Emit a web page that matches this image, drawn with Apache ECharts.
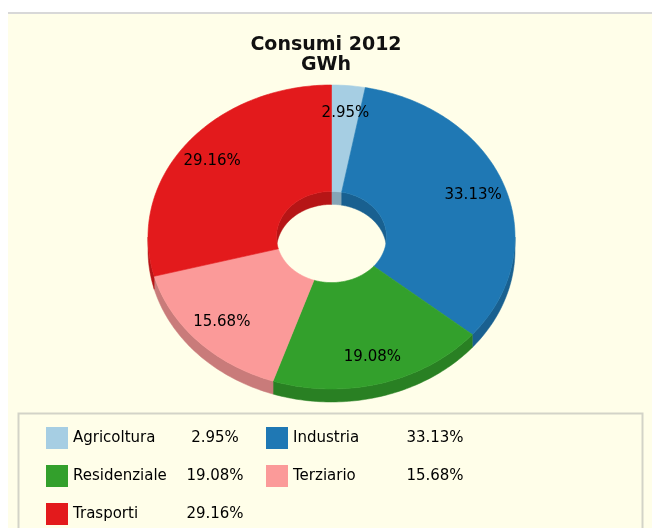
<!DOCTYPE html>
<html>
<head>
<meta charset="utf-8">
<script src="https://cdn.jsdelivr.net/npm/echarts@6/dist/echarts.min.js"></script>
<style>
  html, body { margin: 0; padding: 0; background: #fff; }
  #consumi { width: 652px; height: 528px; }
</style>
</head>
<body>
<div id="consumi"></div>
<script>
// dati
const categories = ["Agricoltura", "Industria", "Residenziale", "Terziario", "Trasporti"];
const percents = [2.95, 33.13, 19.08, 15.68, 29.16];
const colors = ["#a6cee3", "#1f78b4", "#33a02c", "#fb9a99", "#e31a1c"];

const total = percents.reduce((a, b) => a + b, 0);
const starts = [];
let acc = 0;
percents.forEach(v => { starts.push(acc); acc += v; });

const DEPTH = 13;      // spessore della torta in px
const HOLE = 0.3;      // raggio del buco
const LABEL_R = 0.82;
const STEP = Math.PI / 180;
const FONT = '"DejaVu Sans", Verdana, sans-serif';

function darken(hex, k) {
  const n = parseInt(hex.slice(1), 16);
  const r = Math.round(((n >> 16) & 255) * k);
  const g = Math.round(((n >> 8) & 255) * k);
  const b = Math.round((n & 255) * k);
  return "rgb(" + r + "," + g + "," + b + ")";
}

// punti sull'ellisse (cerchio unitario nei dati, ellisse tramite gli assi)
function arc(api, r, a, b, dy) {
  const pts = [];
  const n = Math.max(2, Math.ceil(Math.abs(b - a) / STEP) + 1);
  for (let i = 0; i < n; i++) {
    const t = a + (b - a) * i / (n - 1);
    const p = api.coord([r * Math.sin(t), r * Math.cos(t)]);
    pts.push([p[0], p[1] + dy]);
  }
  return pts;
}

function clipRange(a, b, lo, hi) {
  const s = Math.max(a, lo), e = Math.min(b, hi);
  return s < e ? [s, e] : null;
}

function wall(api, r, range, fill) {
  const top = arc(api, r, range[0], range[1], 0);
  const bottom = arc(api, r, range[1], range[0], DEPTH);
  return {
    type: "polygon",
    z2: 1,
    shape: { points: top.concat(bottom) },
    style: { fill: fill, stroke: fill, lineWidth: 0.5 }
  };
}

function renderSlice(params, api) {
  const color = colors[params.seriesIndex];
  const side = darken(color, 0.8);
  const a0 = api.value(0) / total * 2 * Math.PI;
  const a1 = (api.value(0) + api.value(1)) / total * 2 * Math.PI;
  const children = [];

  // lato esterno: si vede solo la metà davanti
  const front = clipRange(a0, a1, Math.PI / 2, Math.PI * 3 / 2);
  if (front) children.push(wall(api, 1, front, side));

  // lato interno: si vede solo la metà dietro del buco
  [[0, Math.PI / 2], [Math.PI * 3 / 2, Math.PI * 2]].forEach(lim => {
    const back = clipRange(a0, a1, lim[0], lim[1]);
    if (back) children.push(wall(api, HOLE, back, side));
  });

  children.push({
    type: "polygon",
    z2: 10,
    shape: { points: arc(api, 1, a0, a1, 0).concat(arc(api, HOLE, a1, a0, 0)) },
    style: { fill: color, stroke: color, lineWidth: 0.6 }
  });

  const mid = (a0 + a1) / 2;
  const lp = api.coord([LABEL_R * Math.sin(mid), LABEL_R * Math.cos(mid)]);
  children.push({
    type: "text",
    z2: 20,
    x: lp[0],
    y: lp[1],
    style: {
      text: api.value(1).toFixed(2) + "%",
      fill: "#000",
      font: "15px " + FONT,
      align: "center",
      verticalAlign: "middle"
    }
  });

  return { type: "group", children: children };
}

const chart = echarts.init(document.getElementById("consumi"));

let option = {
  backgroundColor: "#fff",
  animation: false,
  title: {
    text: "Consumi 2012\nGWh",
    left: "center",
    top: 35,
    padding: [0, 0, 0, 12],
    textStyle: {
      fontFamily: FONT,
      fontSize: 19,
      fontWeight: "bold",
      color: "#111",
      lineHeight: 20
    }
  },
  graphic: {
    elements: [
      { type: "rect", z: -10, shape: { x: 8, y: 12, width: 644, height: 2 }, style: { fill: "#d8d8d8" } },
      { type: "rect", z: -10, shape: { x: 8, y: 14, width: 644, height: 514 }, style: { fill: "#fffee9" } },
      { type: "rect", z: -9, shape: { x: 18.5, y: 413.5, width: 624, height: 130 }, style: { fill: "none", stroke: "#d3d3c8", lineWidth: 2 } }
    ]
  },
  legend: {
    left: 46,
    top: 427,
    width: 430,
    padding: 0,
    itemGap: 16,
    itemWidth: 22,
    itemHeight: 22,
    icon: "rect",
    data: categories,
    formatter: name => {
      const v = percents[categories.indexOf(name)];
      return "{n|" + name + "}{v|" + v.toFixed(2) + "%}{e| }";
    },
    textStyle: {
      fontFamily: FONT,
      fontSize: 15,
      color: "#000",
      rich: {
        n: { width: 113, fontFamily: FONT, fontSize: 15, color: "#000", lineHeight: 22 },
        v: { width: 58, align: "right", fontFamily: FONT, fontSize: 15, color: "#000", lineHeight: 22 },
        e: { width: 6, fontSize: 15, lineHeight: 22 }
      }
    }
  },
  grid: { left: 148, top: 85, width: 367, height: 304 },
  xAxis: { type: "value", min: -1, max: 1, show: false },
  yAxis: { type: "value", min: -1, max: 1, show: false },
  series: categories.map((name, i) => ({
    type: "custom",
    name: name,
    clip: false,
    itemStyle: { color: colors[i] },
    renderItem: renderSlice,
    data: [[starts[i], percents[i]]]
  }))
};

chart.setOption(option);
</script>
</body>
</html>
